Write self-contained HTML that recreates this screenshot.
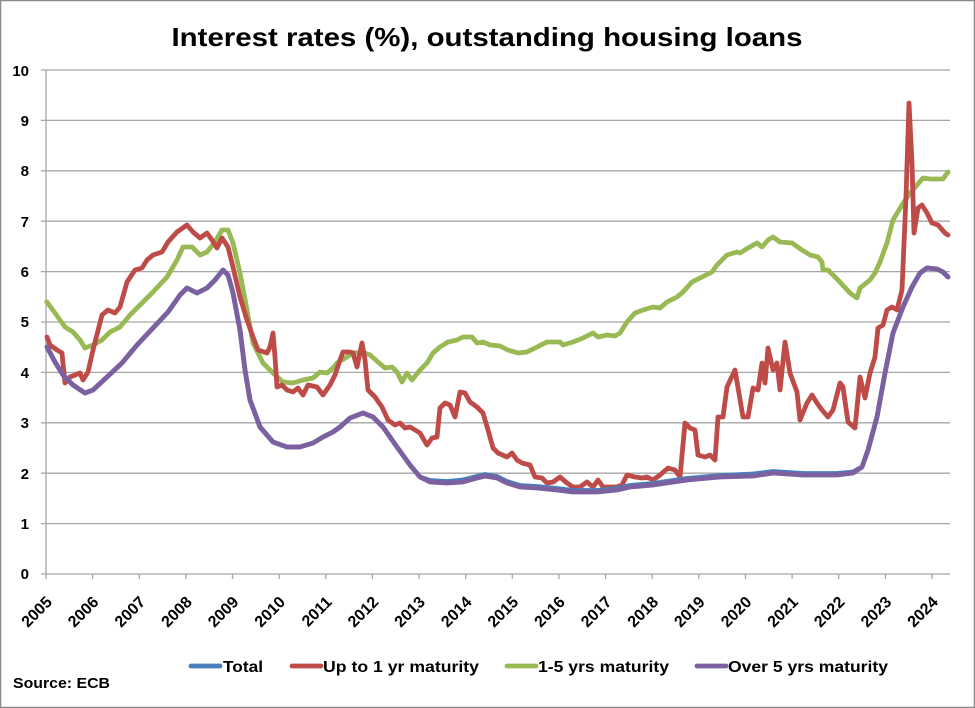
<!DOCTYPE html>
<html><head><meta charset="utf-8"><style>
html,body{margin:0;padding:0;background:#fff;}
svg{display:block;}
text{font-family:"Liberation Sans",Arial,sans-serif;font-weight:bold;fill:#000;}
</style></head><body>
<svg width="975" height="708" viewBox="0 0 975 708" xmlns="http://www.w3.org/2000/svg">
<rect x="0.5" y="0.5" width="974" height="707" fill="#fff" stroke="#8a8a8a" stroke-width="1.5"/>
<text x="487" y="46" font-size="26" text-anchor="middle" textLength="631" lengthAdjust="spacingAndGlyphs">Interest rates (%), outstanding housing loans</text>
<g stroke="#a6a6a6" stroke-width="1.3">
<line x1="41" y1="70" x2="950" y2="70"/>
<line x1="41" y1="120.4" x2="950" y2="120.4"/>
<line x1="41" y1="170.8" x2="950" y2="170.8"/>
<line x1="41" y1="221.2" x2="950" y2="221.2"/>
<line x1="41" y1="271.6" x2="950" y2="271.6"/>
<line x1="41" y1="322" x2="950" y2="322"/>
<line x1="41" y1="372.4" x2="950" y2="372.4"/>
<line x1="41" y1="422.8" x2="950" y2="422.8"/>
<line x1="41" y1="473.2" x2="950" y2="473.2"/>
<line x1="41" y1="523.6" x2="950" y2="523.6"/>
<line x1="41" y1="574" x2="950" y2="574"/>
<line x1="46" y1="70" x2="46" y2="579"/>
<line x1="92.6" y1="574" x2="92.6" y2="579"/>
<line x1="139.3" y1="574" x2="139.3" y2="579"/>
<line x1="185.9" y1="574" x2="185.9" y2="579"/>
<line x1="232.5" y1="574" x2="232.5" y2="579"/>
<line x1="279.2" y1="574" x2="279.2" y2="579"/>
<line x1="325.8" y1="574" x2="325.8" y2="579"/>
<line x1="372.4" y1="574" x2="372.4" y2="579"/>
<line x1="419" y1="574" x2="419" y2="579"/>
<line x1="465.7" y1="574" x2="465.7" y2="579"/>
<line x1="512.3" y1="574" x2="512.3" y2="579"/>
<line x1="558.9" y1="574" x2="558.9" y2="579"/>
<line x1="605.6" y1="574" x2="605.6" y2="579"/>
<line x1="652.2" y1="574" x2="652.2" y2="579"/>
<line x1="698.8" y1="574" x2="698.8" y2="579"/>
<line x1="745.5" y1="574" x2="745.5" y2="579"/>
<line x1="792.1" y1="574" x2="792.1" y2="579"/>
<line x1="838.7" y1="574" x2="838.7" y2="579"/>
<line x1="885.4" y1="574" x2="885.4" y2="579"/>
<line x1="932" y1="574" x2="932" y2="579"/>
</g>
<g font-size="15" text-anchor="end">
<text x="29" y="76">10</text>
<text x="29" y="126">9</text>
<text x="29" y="176">8</text>
<text x="29" y="227">7</text>
<text x="29" y="277">6</text>
<text x="29" y="327">5</text>
<text x="29" y="378">4</text>
<text x="29" y="428">3</text>
<text x="29" y="479">2</text>
<text x="29" y="529">1</text>
<text x="29" y="579">0</text>
</g>
<g font-size="16" text-anchor="end">
<text transform="translate(53,603) rotate(-45)">2005</text>
<text transform="translate(99.6,603) rotate(-45)">2006</text>
<text transform="translate(146.3,603) rotate(-45)">2007</text>
<text transform="translate(192.9,603) rotate(-45)">2008</text>
<text transform="translate(239.5,603) rotate(-45)">2009</text>
<text transform="translate(286.2,603) rotate(-45)">2010</text>
<text transform="translate(332.8,603) rotate(-45)">2011</text>
<text transform="translate(379.4,603) rotate(-45)">2012</text>
<text transform="translate(426,603) rotate(-45)">2013</text>
<text transform="translate(472.7,603) rotate(-45)">2014</text>
<text transform="translate(519.3,603) rotate(-45)">2015</text>
<text transform="translate(565.9,603) rotate(-45)">2016</text>
<text transform="translate(612.6,603) rotate(-45)">2017</text>
<text transform="translate(659.2,603) rotate(-45)">2018</text>
<text transform="translate(705.8,603) rotate(-45)">2019</text>
<text transform="translate(752.5,603) rotate(-45)">2020</text>
<text transform="translate(799.1,603) rotate(-45)">2021</text>
<text transform="translate(845.7,603) rotate(-45)">2022</text>
<text transform="translate(892.4,603) rotate(-45)">2023</text>
<text transform="translate(939,603) rotate(-45)">2024</text>
</g>
<g fill="none" stroke-width="4.8" stroke-linejoin="round" stroke-linecap="round">
<polyline stroke="#98b954" points="46.7,301.7 55,313 65,327 73,332 80,340 85,348 93,345 102,340 110,332 120,327 130,315 140,305 153,292 167,277 177,260 183,247 192,247 200,255 207,252 215,242 222,230 228,230 233,243 240,273 247,310 253,343 263,363 273,373 283,382 293,383 303,380 313,378 320,372 327,373 333,368 337,363 347,357 353,353 362,352 370,355 378,362 385,368 392,367 397,372 402,382 407,373 412,380 420,370 427,363 433,353 440,347 448,342 457,340 463,337 472,337 477,343 483,342 490,345 500,346 508,350 518,353 527,352 537,347 547,342 560,342 563,345 573,342 583,338 593,333 598,337 607,335 615,336 620,333 627,322 635,313 643,310 653,307 660,308 667,302 677,297 683,292 692,282 702,277 712,272 717,265 727,255 737,252 740,253 748,248 757,243 762,247 768,240 773,237 780,242 792,243 802,250 810,255 818,257 822,262 823,270 828,270 838,280 850,293 857,298 860,288 870,280 875,273 880,262 887,243 893,220 902,205 910,193 917,185 923,178 930,179 943,179 948,172"/>
<polyline stroke="#be4b48" points="47,337 50,345 57,350 62,353 65,383 70,377 75,375 80,373 83,380 88,372 93,350 102,315 108,310 115,313 120,307 127,282 135,270 142,268 147,260 153,255 162,252 168,242 177,232 187,225 193,232 200,238 207,233 212,240 217,248 222,238 228,247 233,267 240,297 247,320 253,337 258,350 267,353 270,347 273,333 275,357 277,387 282,385 287,390 293,392 298,388 303,395 308,385 317,387 323,395 330,385 335,375 340,360 343,352 350,352 353,353 357,367 362,343 365,360 368,390 375,397 382,407 388,420 395,425 400,423 405,428 410,427 415,430 420,433 427,445 432,438 437,437 440,408 445,403 450,405 455,417 460,392 465,393 470,402 477,407 483,413 488,430 493,448 498,453 507,457 512,453 517,460 522,463 530,465 535,477 542,478 547,483 553,482 560,477 567,483 573,487 580,487 587,482 593,487 598,480 603,487 617,487 622,485 627,475 635,477 642,478 647,477 653,480 660,475 668,468 675,470 680,477 685,423 690,428 695,430 698,455 705,457 710,455 715,460 718,417 723,417 727,387 735,370 743,417 748,417 753,388 758,390 762,363 765,383 768,348 773,370 777,363 780,390 785,342 790,373 797,392 800,420 807,403 812,395 817,403 822,410 828,417 833,410 840,383 843,387 848,422 855,428 860,377 865,398 870,373 875,357 878,328 883,325 887,310 892,307 897,310 902,290 906,197 909,103 912,163 914,233 918,208 922,205 927,213 932,223 938,225 945,233 948,235"/>
<polyline stroke="#4a7ebb" points="47,347 55,362 63,375 73,385 85,393 93,390 107,377 122,363 137,345 153,328 168,312 180,295 187,288 197,293 207,288 215,280 223,270 228,275 233,293 240,330 245,370 250,400 260,427 273,442 287,447 300,447 313,443 323,437 333,432 340,427 350,418 363,413 373,417 383,427 397,447 410,465 420,477 430,480.5 447,481.5 463,480 477,476.5 485,474.5 497,476.5 507,481.5 520,485.5 537,486.5 557,488.5 573,490.5 597,490.5 617,488.5 630,485.5 653,483.5 687,478.5 720,475.5 753,474 773,471.5 803,473.5 837,473.5 853,472 862,467 868,450 877,417 885,373 893,333 903,307 912,287 920,273 927,268 937,269 943,272 948,277"/>
<polyline stroke="#7d60a0" points="47,347 55,362 63,375 73,385 85,393 93,390 107,377 122,363 137,345 153,328 168,312 180,295 187,288 197,293 207,288 215,280 223,270 228,275 233,293 240,330 245,370 250,400 260,427 273,442 287,447 300,447 313,443 323,437 333,432 340,427 350,418 363,413 373,417 383,427 397,447 410,465 420,477 430,482 447,483 463,482 477,478 485,476 497,478 507,483 520,487 537,488 557,490 573,492 597,492 617,490 630,487 653,485 687,480 720,477 753,476 773,473 803,475 837,475 853,473 862,467 868,450 877,417 885,373 893,333 903,307 912,287 920,273 927,268 937,269 943,272 948,277"/>
</g>
<g stroke-width="4.8" stroke-linecap="round">
<line x1="191" y1="666" x2="220" y2="666" stroke="#4a7ebb"/>
<line x1="292" y1="666" x2="321" y2="666" stroke="#be4b48"/>
<line x1="507" y1="666" x2="536" y2="666" stroke="#98b954"/>
<line x1="697" y1="666" x2="726" y2="666" stroke="#7d60a0"/>
</g>
<g font-size="16">
<text x="223" y="672" textLength="40" lengthAdjust="spacingAndGlyphs">Total</text>
<text x="323" y="672" textLength="156" lengthAdjust="spacingAndGlyphs">Up to 1 yr maturity</text>
<text x="538" y="672" textLength="131" lengthAdjust="spacingAndGlyphs">1-5 yrs maturity</text>
<text x="728" y="672" textLength="160" lengthAdjust="spacingAndGlyphs">Over 5 yrs maturity</text>
</g>
<text x="13" y="688" font-size="15" textLength="97" lengthAdjust="spacingAndGlyphs">Source: ECB</text>
</svg>
</body></html>
